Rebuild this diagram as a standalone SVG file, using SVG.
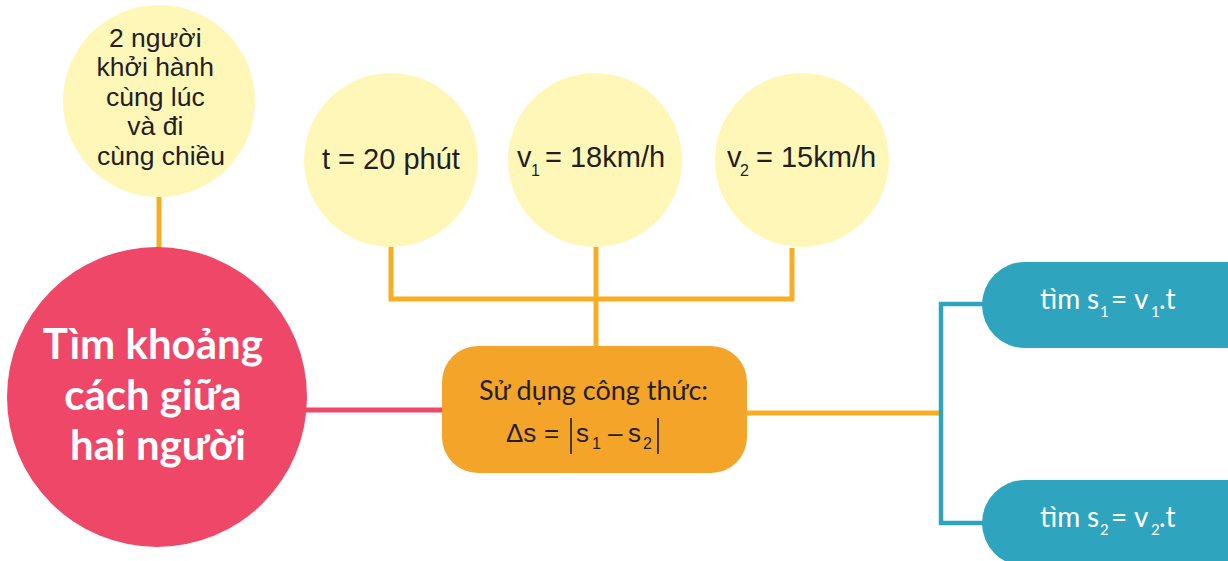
<svg xmlns="http://www.w3.org/2000/svg" width="1228" height="561" viewBox="0 0 1228 561">
<style>
.yel{fill:#FFF7B8}
.dark{fill:#231F20;font-family:"Liberation Sans",Arial,sans-serif}
.wl{fill:#FFFFFF;font-family:Lato,"Open Sans",sans-serif}
.ol{stroke:#F8AE22;stroke-width:5;fill:none}
.rl{stroke:#EE4767;stroke-width:5;fill:none}
.bl{stroke:#2EA4BF;stroke-width:4.5;fill:none}
</style>
<rect width="1228" height="561" fill="#FFFFFF"/>
<g id="connectors">
<line class="ol" x1="159" y1="195" x2="159" y2="250"/>
<polyline class="ol" points="391,244 391,299 792,299 792,248"/>
<line class="ol" x1="596" y1="244" x2="596" y2="348"/>
<line class="rl" x1="300" y1="410" x2="445" y2="410"/>
<line class="ol" x1="745" y1="413" x2="942" y2="413"/>
<polyline class="bl" points="984,304 941,304 941,523 984,523"/>
</g>
<g id="n-start">
<circle class="yel" cx="159" cy="101" r="96"/>
<text class="dark" font-size="26.5" text-anchor="middle">
<tspan x="159" y="47">2 người</tspan>
<tspan x="159" y="76">khởi hành</tspan>
<tspan x="159" y="106">cùng lúc</tspan>
<tspan x="159" y="135">và đi</tspan>
<tspan x="161" y="165">cùng chiều</tspan>
</text>
</g>
<g id="n-main">
<circle cx="157" cy="397" r="150" fill="#EE4767"/>
<text class="wl" font-size="42" font-weight="bold" text-anchor="middle">
<tspan x="158" y="359">Tìm khoảng</tspan>
<tspan x="158" y="410">cách giữa</tspan>
<tspan x="158" y="460">hai người</tspan>
</text>
</g>
<g id="n-t">
<circle class="yel" cx="391" cy="160" r="87"/>
<text class="dark" font-size="29" x="322" y="169">t = 20 phút</text>
</g>
<g id="n-v1">
<circle class="yel" cx="595" cy="160" r="87"/>
<text class="dark" font-size="29" x="517" y="167">v</text>
<text class="dark" font-size="16" x="531" y="176">1</text>
<text class="dark" font-size="29" x="545" y="167">= 18km/h</text>
</g>
<g id="n-v2">
<circle class="yel" cx="802" cy="160" r="87"/>
<text class="dark" font-size="29" x="727" y="167">v</text>
<text class="dark" font-size="16" x="740" y="176">2</text>
<text class="dark" font-size="29" x="756" y="167">= 15km/h</text>
</g>
<g id="n-formula">
<rect x="442" y="346" width="305" height="127" rx="36" fill="#F5A42A"/>
<text font-family="Lato,'Open Sans',sans-serif" font-size="27" fill="#231F20" x="479" y="400">Sử dụng công thức:</text>
<g class="dark" font-size="26">
<text x="506" y="442">Δs</text>
<text x="544" y="442">=</text>
<text x="576" y="442">s</text>
<text x="592" y="449" font-size="16">1</text>
<text x="608" y="442">–</text>
<text x="628" y="442">s</text>
<text x="643" y="449" font-size="16">2</text>
</g>
<line x1="571" y1="418" x2="571" y2="454" stroke="#231F20" stroke-width="1.6"/>
<line x1="658" y1="418" x2="658" y2="454" stroke="#231F20" stroke-width="1.6"/>
</g>
<g id="n-s1">
<rect x="982" y="262" width="290" height="86" rx="43" fill="#2EA4BF"/>
<text class="wl" font-size="28" x="1040" y="309">tìm</text>
<text class="wl" font-size="28" x="1087" y="309">s</text>
<text class="wl" font-size="15" x="1100" y="317">1</text>
<text class="wl" font-size="28" x="1111" y="309">=</text>
<text class="wl" font-size="28" x="1134" y="309">v</text>
<text class="wl" font-size="15" x="1151" y="317">1</text>
<text class="wl" font-size="28" x="1159" y="309">.t</text>
</g>
<g id="n-s2">
<rect x="982" y="480" width="290" height="86" rx="43" fill="#2EA4BF"/>
<text class="wl" font-size="28" x="1040" y="527">tìm</text>
<text class="wl" font-size="28" x="1087" y="527">s</text>
<text class="wl" font-size="15" x="1100" y="535">2</text>
<text class="wl" font-size="28" x="1111" y="527">=</text>
<text class="wl" font-size="28" x="1134" y="527">v</text>
<text class="wl" font-size="15" x="1151" y="535">2</text>
<text class="wl" font-size="28" x="1159" y="527">.t</text>
</g>
</svg>
